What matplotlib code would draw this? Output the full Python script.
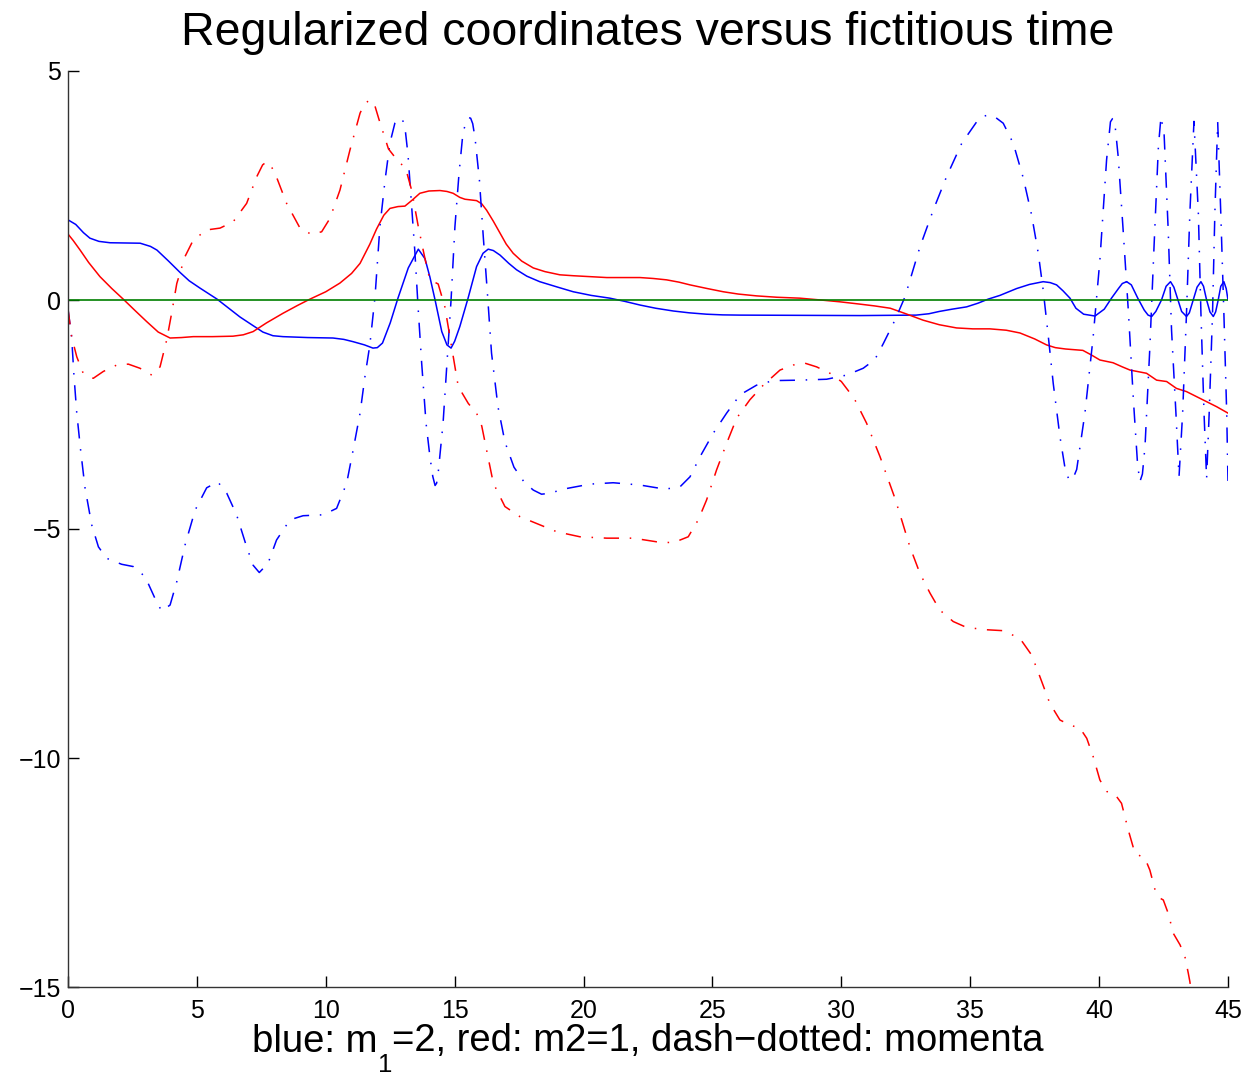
import matplotlib
matplotlib.use("Agg")
import matplotlib.pyplot as plt

plt.rcParams['font.family'] = ['Liberation Sans', 'DejaVu Sans']

# blue solid: regularized coordinate of body 1
q1_t = [0, 0.3, 0.6, 0.85, 1.2, 1.63, 2.8, 3.2, 3.45, 3.9, 4.35, 4.7, 5.12, 5.78, 6.67, 7.1, 7.56, 7.95,
        8.34, 9.3, 10.28, 10.7, 11.06, 11.5, 11.83, 12.0, 12.2, 12.5, 12.8, 13.2, 13.59, 13.85, 14.04,
        14.24, 14.5, 14.7, 14.86, 15.0, 15.2, 15.52, 15.85, 16.1, 16.3, 16.5, 16.76, 17.1, 17.4, 17.8,
        18.3, 19.0, 19.6, 20.3, 21.02, 21.6, 22.19, 22.8, 23.48, 24.1, 24.77, 25.4, 26.07, 30.72, 32.9,
        33.4, 33.8, 34.3, 34.86, 35.3, 35.7, 36.15, 36.8, 37.3, 37.83, 38.1, 38.35, 38.6, 38.87, 39.1,
        39.4, 39.84, 40.2, 40.48, 40.75, 40.9, 41.07, 41.25, 41.5, 41.75, 41.9, 42.04, 42.2, 42.42, 42.6,
        42.77, 42.9, 43.06, 43.2, 43.39, 43.5, 43.65, 43.8, 43.95, 44.05, 44.17, 44.3, 44.43, 44.52,
        44.62, 44.72, 44.84, 44.93, 45.0]
q1_v = [1.75, 1.65, 1.47, 1.35, 1.28, 1.25, 1.24, 1.17, 1.09, 0.85, 0.6, 0.42, 0.26, 0.02, -0.37, -0.53,
        -0.7, -0.78, -0.8, -0.82, -0.83, -0.86, -0.91, -0.98, -1.05, -1.04, -0.94, -0.5, 0.04, 0.7, 1.11,
        0.9, 0.5, 0.0, -0.69, -0.98, -1.05, -0.9, -0.58, 0.04, 0.73, 1.02, 1.11, 1.08, 0.98, 0.8, 0.66,
        0.52, 0.4, 0.28, 0.18, 0.1, 0.04, -0.03, -0.11, -0.18, -0.24, -0.28, -0.31, -0.325, -0.33, -0.34,
        -0.33, -0.3, -0.25, -0.2, -0.15, -0.07, 0.02, 0.1, 0.25, 0.34, 0.4, 0.38, 0.33, 0.2, 0.04, -0.18,
        -0.31, -0.35, -0.2, 0.04, 0.25, 0.36, 0.4, 0.33, 0.04, -0.22, -0.33, -0.36, -0.25, 0.0, 0.3,
        0.4, 0.28, 0.0, -0.25, -0.36, -0.28, 0.0, 0.28, 0.4, 0.3, 0.0, -0.26, -0.36, -0.26,
        0.0, 0.3, 0.4, 0.25, 0.0]

# red solid: regularized coordinate of body 2
q2_t = [0, 0.2, 0.47, 0.8, 1.24, 1.7, 2.14, 2.6, 3.05, 3.5, 3.96, 4.4, 4.86, 5.6, 6.4, 6.8, 7.18, 7.7,
        8.34, 8.9, 9.39, 10.0, 10.55, 11.0, 11.33, 11.71, 11.97, 12.25, 12.49, 12.8, 13.07, 13.35, 13.65,
        14.0, 14.43, 14.7, 14.94, 15.2, 15.4, 15.85, 16.05, 16.24, 16.5, 16.76, 17.0, 17.27, 17.6, 18.05,
        18.5, 19.08, 19.6, 20.9, 22.19, 22.7, 23.22, 23.7, 24.13, 24.8, 25.42, 26.0, 26.71, 27.5, 28.39,
        29.2, 29.95, 30.72, 31.3, 31.9, 32.5, 33.17, 33.8, 34.47, 35.1, 35.76, 36.4, 36.93, 37.5, 37.96,
        38.3, 38.7, 39.37, 39.7, 40.03, 40.54, 40.9, 41.2, 41.84, 42.23, 42.62, 43.0, 43.39, 43.78,
        44.17, 44.56, 45.0]
q2_v = [1.44, 1.3, 1.09, 0.82, 0.51, 0.25, 0.02, -0.23, -0.47, -0.7, -0.83, -0.82, -0.8, -0.8, -0.79,
        -0.76, -0.69, -0.5, -0.29, -0.12, 0.02, 0.18, 0.37, 0.58, 0.8, 1.22, 1.55, 1.85, 2.0, 2.04, 2.05,
        2.18, 2.33, 2.38, 2.39, 2.37, 2.33, 2.24, 2.2, 2.17, 2.1, 1.96, 1.72, 1.46, 1.22, 1.02, 0.85, 0.7,
        0.62, 0.55, 0.53, 0.49, 0.49, 0.47, 0.44, 0.39, 0.33, 0.25, 0.18, 0.13, 0.09, 0.06, 0.04,
        0.0, -0.04, -0.09, -0.13, -0.18, -0.3, -0.44, -0.54, -0.61, -0.63, -0.63, -0.66, -0.72, -0.85,
        -0.98, -1.04, -1.07, -1.1, -1.2, -1.31, -1.37, -1.46, -1.53, -1.6, -1.75, -1.78, -1.93, -2.0,
        -2.11, -2.22, -2.33, -2.47]

# blue dash-dotted: momentum of body 1
p1_t = [0, 0.14, 0.23, 0.34, 0.49, 0.66, 0.92, 1.18, 1.5, 2.08, 2.53, 2.99, 3.37, 3.63, 3.96, 4.22, 4.54,
        4.93, 5.38, 5.81, 6.16, 6.54, 6.93, 7.18, 7.42, 7.76, 8.09, 8.61, 9.12, 9.9, 10.42, 10.81, 11.06,
        11.33, 11.52, 11.71, 11.91, 12.1, 12.3, 12.49, 12.68, 12.8, 12.92, 13.0, 13.07, 13.19, 13.33,
        13.46, 13.58, 13.72, 13.89, 14.04, 14.15, 14.24, 14.3, 14.36, 14.55, 14.7, 14.86, 15.01, 15.17,
        15.32, 15.46, 15.55, 15.62, 15.7, 15.79, 15.96, 16.11, 16.27, 16.43, 16.68, 16.95, 17.3, 17.7,
        18.05, 18.37, 18.7, 19.21, 20.25, 21.15, 22.19, 23.16, 23.74, 24.13, 24.52, 25.03, 25.55, 26.07,
        26.71, 27.36, 28.39, 29.43, 30.2, 30.85, 31.3, 31.63, 32.08, 32.47, 33.05, 33.57, 34.08, 34.67,
        35.25, 35.45, 35.7, 35.95, 36.28, 36.67, 37.06, 37.38, 37.64, 37.83, 38.03, 38.22, 38.48, 38.7,
        38.85, 39.0, 39.13, 39.45, 39.77, 40.03, 40.29, 40.44, 40.52, 40.6, 40.74, 40.94, 41.14, 41.33,
        41.49, 41.58, 41.68, 41.78, 41.97, 42.13, 42.3, 42.4, 42.52, 42.68, 42.81, 42.98, 43.1, 43.24,
        43.39, 43.52, 43.68, 43.85, 43.95, 44.07, 44.17, 44.27, 44.4, 44.49, 44.6, 44.72, 44.84, 44.95,
        45.0]
p1_v = [-0.2, -0.8, -1.64, -2.47, -3.28, -4.1, -4.91, -5.39, -5.64, -5.77, -5.82, -6.04, -6.51, -6.79,
        -6.66, -6.15, -5.35, -4.59, -4.1, -3.97, -4.22, -4.69, -5.39, -5.79, -5.95, -5.75, -5.24, -4.8,
        -4.71, -4.69, -4.55, -4.0, -3.28, -2.47, -1.67, -0.98, 0.07, 1.6, 2.62, 3.43, 3.86, 3.95, 3.97,
        3.9, 3.78, 3.17, 2.04, 1.02, -0.15, -1.38, -2.69, -3.42, -3.85, -4.05, -4.0, -3.78, -2.69, -1.38,
        0.0, 1.6, 2.77, 3.64, 3.93, 3.98, 3.97, 3.85, 3.54, 2.62, 1.38, 0.15, -1.16, -2.33, -3.1, -3.65,
        -3.98, -4.15, -4.24, -4.22, -4.13, -4.02, -3.99, -4.04, -4.13, -4.08, -3.86, -3.42, -2.91, -2.47,
        -2.07, -1.86, -1.76, -1.75, -1.73, -1.64, -1.49, -1.3, -0.95, -0.44, 0.07, 1.16, 1.97, 2.69,
        3.42, 3.89, 4.0, 4.04, 4.0, 3.86, 3.42, 2.66, 1.86, 1.02, 0.22, -0.8, -1.82, -2.98, -3.75,
        -3.94, -3.88, -3.7, -2.47, -0.8, 0.87, 3.06, 3.89, 3.96, 3.92, 3.13, 1.46, -0.29, -2.18,
        -3.57, -3.97, -3.8, -3.2, -1.02, 1.16, 3.35, 4.0, 3.64, 1.53, -0.66, -2.47, -3.86, -2.47,
        -0.29, 1.89, 3.9, 1.89, -0.29, -2.47, -3.9, -2.47, -0.29, 1.89, 3.89, 1.89, -0.29, -2.47,
        -3.97]

# red dash-dotted: momentum of body 2
p2_t = [0, 0.14, 0.34, 0.59, 0.98, 1.37, 1.89, 2.34, 2.79, 3.25, 3.57, 3.83, 4.02, 4.22, 4.54, 4.86,
        5.38, 5.9, 6.41, 6.93, 7.32, 7.55, 7.71, 7.85, 8.03, 8.48, 9.0, 9.45, 9.84, 10.16, 10.55, 10.94,
        11.33, 11.5, 11.71, 11.9, 12.06, 12.43, 12.75, 13.1, 13.33, 13.59, 13.86, 14.04, 14.36, 14.62,
        14.88, 15.14, 15.53, 15.85, 16.05, 16.24, 16.5, 16.95, 17.53, 18.18, 18.96, 19.86, 20.9, 21.93,
        22.84, 23.48, 24.06, 24.45, 24.77, 25.16, 25.55, 25.94, 26.45, 26.97, 27.62, 28.13, 28.59, 29.04,
        29.56, 30.0, 30.5, 30.98, 31.5, 32.08, 32.34, 32.66, 33.05, 33.44, 33.82, 34.34, 34.86, 35.64,
        36.28, 36.93, 37.38, 37.7, 38.09, 38.48, 38.87, 39.26, 39.52, 39.77, 40.03, 40.29, 40.61, 40.87,
        41.13, 41.39, 41.78, 41.97, 42.17, 42.36, 42.49, 42.68, 42.88, 43.14, 43.33, 43.46, 43.52, 43.6]
p2_v = [-0.2, -0.8, -1.24, -1.6, -1.71, -1.56, -1.42, -1.4, -1.49, -1.64, -1.46, -0.87, -0.29, 0.36, 0.95,
        1.31, 1.53, 1.57, 1.71, 2.11, 2.69, 2.95, 3.02, 2.95, 2.77, 2.11, 1.57, 1.43, 1.49, 1.78, 2.4,
        3.28, 4.08, 4.28, 4.37, 4.25, 3.95, 3.3, 3.07, 2.87, 2.4, 1.6, 0.87, 0.44, 0.35, -0.15, -1.02,
        -1.89, -2.26, -2.47, -2.75, -3.28, -4.0, -4.51, -4.73, -4.88, -5.06, -5.17, -5.2, -5.2, -5.28,
        -5.3, -5.17, -4.8, -4.37, -3.71, -3.13, -2.58, -2.18, -1.86, -1.53, -1.42, -1.38, -1.46, -1.6,
        -1.78, -2.15, -2.69, -3.42, -4.33, -4.8, -5.39, -5.97, -6.4, -6.77, -7.02, -7.15, -7.2, -7.22,
        -7.39, -7.75, -8.22, -8.81, -9.17, -9.28, -9.35, -9.57, -9.97, -10.48, -10.73, -10.79, -10.99,
        -11.57, -12.08, -12.19, -12.45, -12.88, -13.06, -13.1, -13.39, -13.83, -14.08, -14.34, -14.7,
        -14.88, -15.2]

zero_t = [0, 45]
zero_v = [0, 0]

xticks = [0, 5, 10, 15, 20, 25, 30, 35, 40, 45]
yticks = [-15, -10, -5, 0, 5]

W, H = 1252, 1075
fig = plt.figure(figsize=(W / 100, H / 100), dpi=100)
ax = fig.add_axes([68 / W, 88 / H, 1160 / W, 916 / H])

dd = (10, 7, 1, 7)
lw = 1.1
ax.plot(q1_t, q1_v, color='#0000ff', lw=lw)
ax.plot(q2_t, q2_v, color='#ff0000', lw=lw)
ax.plot(p1_t, p1_v, color='#0000ff', lw=lw, dashes=dd)
ax.plot(p2_t, p2_v, color='#ff0000', lw=lw, dashes=dd)
ax.plot(zero_t, zero_v, color='#007f00', lw=1.2)

ax.set_xlim(0, 45)
ax.set_ylim(-15, 5)
ax.set_xticks(xticks)
ax.set_yticks(yticks)
ax.spines['top'].set_visible(False)
ax.spines['right'].set_visible(False)
for s in ('left', 'bottom'):
    ax.spines[s].set_linewidth(1.0)
    ax.spines[s].set_color('#333333')
ax.tick_params(direction='in', length=8, width=1.0, labelsize=18, colors='black')
ax.tick_params(axis='x', pad=9)
ax.tick_params(axis='y', pad=5)

ax.set_title('Regularized coordinates versus fictitious time', fontsize=33.5, pad=18.5)

# x label with a low subscript as in the original
S = 27.5
yb = (H - 1051.5) / H
fig.canvas.draw()
r = fig.canvas.get_renderer()
t1 = fig.text(0, yb, 'blue: m', fontsize=S, va='baseline', ha='left')
t2 = fig.text(0, (H - 1071.5) / H, '1', fontsize=18.5, va='baseline', ha='left')
t3 = fig.text(0, yb, '=2, red: m2=1, dash\u2212dotted: momenta', fontsize=S, va='baseline', ha='left')
w1 = t1.get_window_extent(r).width
w2 = t2.get_window_extent(r).width
w3 = t3.get_window_extent(r).width
x0 = 648 - (w1 + w2 + w3) / 2
t1.set_x(x0 / W)
t2.set_x((x0 + w1) / W)
t3.set_x((x0 + w1 + w2) / W)

fig.savefig('out.png', dpi=100)
